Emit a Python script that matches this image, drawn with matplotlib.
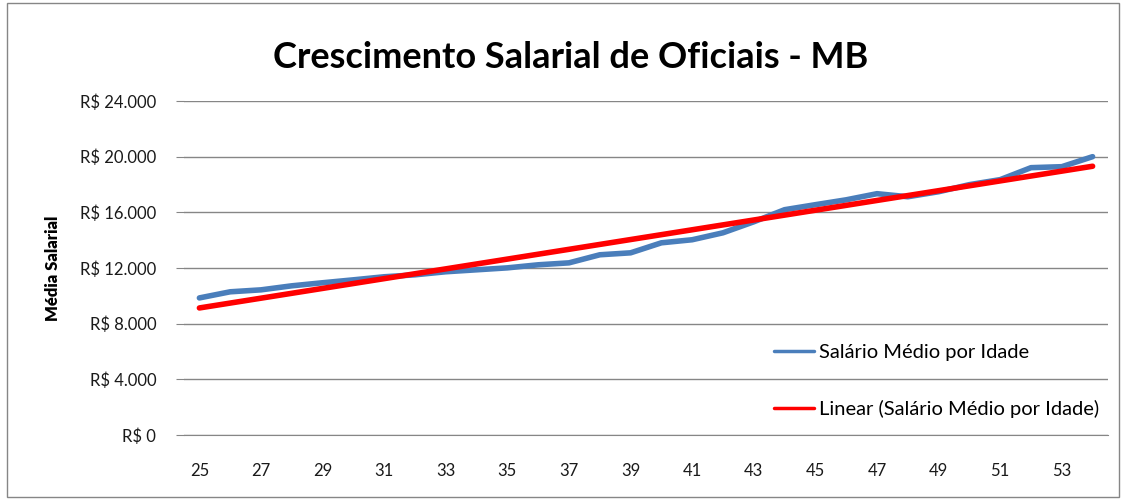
import numpy as np
import matplotlib
matplotlib.use("Agg")
import matplotlib.pyplot as plt
from matplotlib.patches import Rectangle
from matplotlib.ticker import FuncFormatter

plt.rcParams["font.family"] = ["Lato", "DejaVu Sans"]

# salário médio por idade (R$)
idades = list(range(25, 55))
salario_medio = [9850, 10290, 10430, 10720, 10940, 11150, 11370, 11510, 11730, 11870,
                 12010, 12230, 12370, 12950, 13090, 13810, 14030, 14530, 15320, 16190,
                 16550, 16900, 17340, 17120, 17480, 17990, 18350, 19210, 19280, 20000]
y_ticks = [0, 4000, 8000, 12000, 16000, 20000, 24000]

x = np.arange(len(idades))
coef = np.polyfit(x, salario_medio, 1)
tendencia = np.polyval(coef, x)

fig = plt.figure(figsize=(11.23, 4.99), dpi=100)
fig.patches.append(Rectangle((0.006, 0.004), 0.99, 0.99, transform=fig.transFigure,
                             fill=False, edgecolor="#868686", linewidth=1.0))
ax = fig.add_axes([184 / 1123, 1 - 435 / 499, 924 / 1123, 334 / 499])

ax.plot(x, salario_medio, color="#4a7ebb", linewidth=4, solid_capstyle="round",
        label="Salário Médio por Idade", zorder=3)
ax.plot(x, tendencia, color="#ff0000", linewidth=4, solid_capstyle="round",
        label="Linear (Salário Médio por Idade)", zorder=4)

ax.set_xlim(-0.5, len(idades) - 0.5)
ax.set_ylim(0, 24000)
ax.set_yticks(y_ticks)
ax.yaxis.set_major_formatter(FuncFormatter(lambda v, p: "R$ " + f"{int(v):,}".replace(",", ".")))
ax.set_xticks(x[::2])
ax.set_xticklabels([str(i) for i in idades[::2]])
ax.grid(axis="y", color="#868686", linewidth=1.0)
ax.set_axisbelow(True)
for s in ["top", "right", "left"]:
    ax.spines[s].set_visible(False)
ax.spines["bottom"].set_color("#868686")
ax.tick_params(axis="y", length=6, color="#868686", labelsize=12, pad=14, labelcolor="#1a1a1a")
ax.tick_params(axis="x", length=0, labelsize=12, pad=20, labelcolor="#1a1a1a")
ax.set_ylabel("Média Salarial", fontsize=12, fontweight="heavy", labelpad=14)

leg = ax.legend(loc="lower right", bbox_to_anchor=(1.006, 0.01), frameon=False,
                fontsize=14.5, handlelength=2.0, labelspacing=1.9, handletextpad=0.25,
                borderpad=0.2)
for line in leg.get_lines():
    line.set_linewidth(2.5)

fig.text(0.508, 0.885, "Crescimento Salarial de Oficiais - MB", ha="center", va="center",
         fontsize=26, fontweight="bold")

fig.savefig("out.png", dpi=100)
